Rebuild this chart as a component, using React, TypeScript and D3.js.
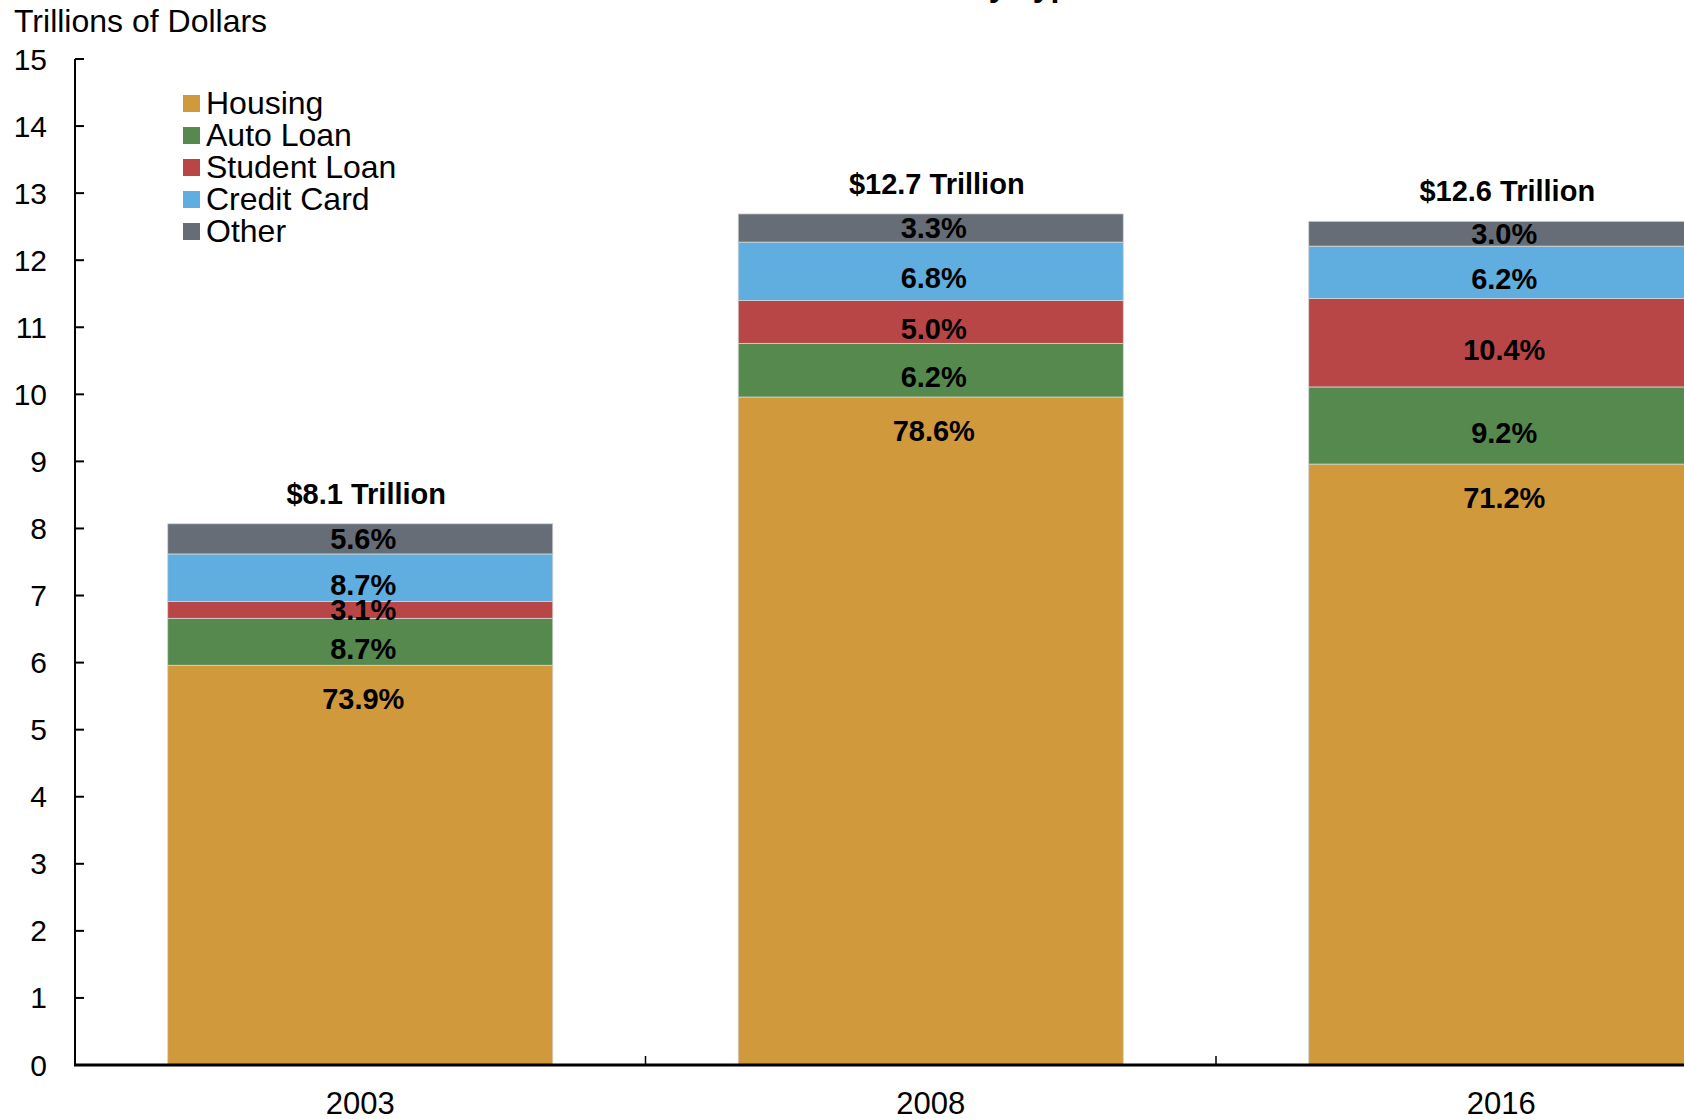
import React from "react";
import * as d3 from "d3";

const categories = ["2003", "2008", "2016"];
const housing = [5.96, 9.96, 8.96];
const autoLoan = [0.7, 0.8, 1.15];
const studentLoan = [0.25, 0.64, 1.32];
const creditCard = [0.71, 0.87, 0.78];
const other = [0.45, 0.42, 0.37];
const seriesNames = ["Housing", "Auto Loan", "Student Loan", "Credit Card", "Other"];
const seriesColors = ["#D0993C", "#55894D", "#B84646", "#60AEDF", "#666D77"];
const pctLabels = [
  ["73.9%", "8.7%", "3.1%", "8.7%", "5.6%"],
  ["78.6%", "6.2%", "5.0%", "6.8%", "3.3%"],
  ["71.2%", "9.2%", "10.4%", "6.2%", "3.0%"],
];
const totalLabels = ["$8.1 Trillion", "$12.7 Trillion", "$12.6 Trillion"];
const yTicks = d3.range(0, 16);

const W = 1684;
const H = 1119;
const FONT = "'Liberation Sans', Arial, Helvetica, sans-serif";

export default function App() {
  const left = 75;
  const x = d3
    .scaleBand<string>()
    .domain(categories)
    .range([left, left + 3 * 570.5])
    .paddingInner(0.325)
    .paddingOuter(0.1625);
  const y = d3.scaleLinear().domain([0, 15]).range([1065, 59]);

  const rows = categories.map((c, i) => ({
    cat: c,
    Housing: housing[i],
    "Auto Loan": autoLoan[i],
    "Student Loan": studentLoan[i],
    "Credit Card": creditCard[i],
    Other: other[i],
  }));
  const stacked = d3.stack<any>().keys(seriesNames)(rows);

  const step = x.step();
  const catTicks = [1, 2].map((k) => left + k * step);

  return (
    <svg
      width={W}
      height={H}
      style={{ position: "absolute", left: 0, top: 0, background: "#fff" }}
      fontFamily={FONT}
    >
      <rect x={0} y={0} width={W} height={H} fill="#fff" />
      {/* cut-off title */}
      <text x={715} y={-4} fontSize={32} fontWeight="bold" fill="#000">
        Household Debt by Type
      </text>
      <text x={14} y={32} fontSize={32} fill="#000">
        Trillions of Dollars
      </text>

      {/* bars */}
      {stacked.map((layer, si) =>
        layer.map((d, ci) => (
          <rect
            key={`${si}-${ci}`}
            x={x(categories[ci])}
            y={y(d[1])}
            width={x.bandwidth()}
            height={y(d[0]) - y(d[1])}
            fill={seriesColors[si]}
            stroke="#d4d4d4"
            strokeWidth={0.8}
          />
        ))
      )}

      {/* percent labels */}
      {stacked.map((layer, si) =>
        layer.map((d, ci) => {
          const top = y(d[1]);
          const bot = y(d[0]);
          const h = bot - top;
          const cx = (x(categories[ci]) as number) + x.bandwidth() / 2 + 3;
          const yy = si === 0 ? top + 44 : (top + bot) / 2 + 10 + (h > 35 ? 7 : 0);
          return (
            <text
              key={`l-${si}-${ci}`}
              x={cx}
              y={yy}
              textAnchor="middle"
              fontSize={29}
              fontWeight="bold"
              fill="#000"
            >
              {pctLabels[ci][si]}
            </text>
          );
        })
      )}

      {/* total labels */}
      {categories.map((c, ci) => {
        const top = y(stacked[stacked.length - 1][ci][1]);
        return (
          <text
            key={`t-${c}`}
            x={(x(c) as number) + x.bandwidth() / 2 + 6}
            y={top - 20}
            textAnchor="middle"
            fontSize={29}
            fontWeight="bold"
            fill="#000"
          >
            {totalLabels[ci]}
          </text>
        );
      })}

      {/* y axis */}
      <line x1={left} x2={left} y1={y(15)} y2={y(0)} stroke="#000" strokeWidth={2} />
      {yTicks.map((t) => (
        <g key={`yt-${t}`}>
          <line x1={left} x2={left + 9} y1={y(t)} y2={y(t)} stroke="#000" strokeWidth={2} />
          <text x={47} y={y(t)} dy="0.35em" textAnchor="end" fontSize={30} fill="#000">
            {t}
          </text>
        </g>
      ))}

      {/* x axis */}
      <line x1={left - 1} x2={W} y1={y(0)} y2={y(0)} stroke="#000" strokeWidth={3} />
      {catTicks.map((tx, i) => (
        <line key={`ct-${i}`} x1={tx} x2={tx} y1={y(0)} y2={y(0) - 9} stroke="#000" strokeWidth={1.5} />
      ))}
      {categories.map((c) => (
        <text
          key={`xl-${c}`}
          x={(x(c) as number) + x.bandwidth() / 2}
          y={1114}
          textAnchor="middle"
          fontSize={31}
          fill="#000"
        >
          {c}
        </text>
      ))}

      {/* legend */}
      {seriesNames.map((n, i) => (
        <g key={`lg-${n}`}>
          <rect x={183} y={95 + i * 32} width={17} height={17} fill={seriesColors[i]} />
          <text x={206} y={114 + i * 32} fontSize={32} fill="#000">
            {n}
          </text>
        </g>
      ))}
    </svg>
  );
}
